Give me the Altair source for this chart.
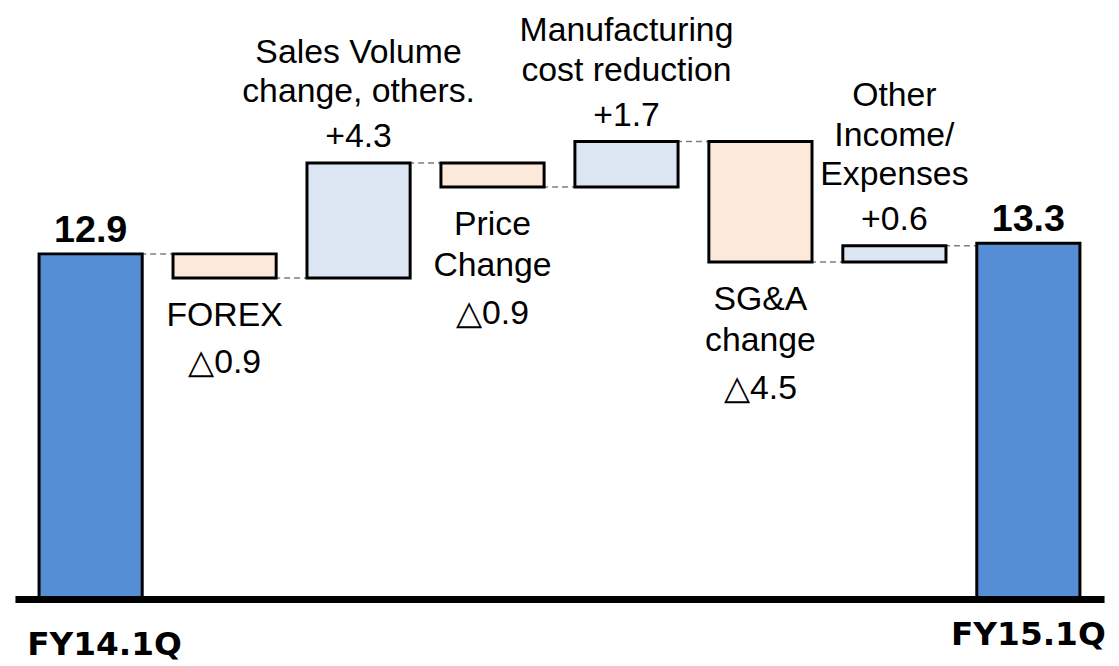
import altair as alt
import pandas as pd

# ---- data ----
categories = ["FY14.1Q", "FOREX", "Sales Volume", "Price Change",
              "Manufacturing", "SG&A", "Other", "FY15.1Q"]
values = [12.9, -0.9, 4.3, -0.9, 1.7, -4.5, 0.6, 13.3]
kinds = ["total", "decrease", "increase", "decrease",
         "increase", "decrease", "increase", "total"]
names = ["", "FOREX", "Sales Volume\nchange, others.", "Price\nChange",
         "Manufacturing\ncost reduction", "SG&A\nchange",
         "Other\nIncome/\nExpenses", ""]
axis_labels = ["FY14.1Q", "FY15.1Q"]

# ---- waterfall table built from the arrays ----
rows = []
level = 0.0
for i, (c, v, k) in enumerate(zip(categories, values, kinds)):
    if k == "total":
        lo, hi = 0.0, v
        level = v
    else:
        start = level
        level = round(level + v, 2)
        lo, hi = min(start, level), max(start, level)
    nxt = categories[i + 1] if i + 1 < len(categories) else ""
    rows.append(dict(cat=c, kind=k, lo=lo, hi=hi, end=level,
                     label=f"{v:.1f}", nxt=nxt))
df = pd.DataFrame(rows)

# ---- label lines (one row per text line), with a line offset style ----
ABOVE_VALUE_GAP, ABOVE_NAME_GAP, ABOVE_LINE = -16, -45, -40
BELOW_FIRST, BELOW_LINE, BELOW_VALUE_GAP = 48, 42, 48
lines = []
for c, v, k, n in zip(categories, values, kinds, names):
    if k == "total":
        continue
    parts = n.split("\n")
    vtxt = f"+{v:.1f}" if v > 0 else f"\u25b3{abs(v):.1f}"
    if k == "increase":
        lines.append(dict(cat=c, text=vtxt, side="hi", dy=ABOVE_VALUE_GAP))
        for s, p in enumerate(reversed(parts)):
            lines.append(dict(cat=c, text=p, side="hi",
                              dy=ABOVE_VALUE_GAP + ABOVE_NAME_GAP + s * ABOVE_LINE))
    else:
        for j, p in enumerate(parts):
            lines.append(dict(cat=c, text=p, side="lo", dy=BELOW_FIRST + j * BELOW_LINE))
        lines.append(dict(cat=c, text=vtxt, side="lo",
                          dy=BELOW_FIRST + (len(parts) - 1) * BELOW_LINE + BELOW_VALUE_GAP))
lab = pd.DataFrame(lines).merge(df[["cat", "lo", "hi"]], on="cat")
lab["yv"] = [r.hi if r.side == "hi" else r.lo for r in lab.itertuples()]

FONT = "Liberation Sans"

x_enc = alt.X(
    "cat:N", sort=categories,
    scale=alt.Scale(paddingInner=0.23, paddingOuter=0.18),
    axis=alt.Axis(
        title=None,
        labelExpr="indexof(" + str(axis_labels) + ", datum.value) >= 0 ? datum.value : ''",
        labelFont="DejaVu Sans", labelFontWeight="bold", labelFontSize=33,
        labelColor="black", labelAngle=0,
        labelPadding=alt.condition("datum.value == 'FY14.1Q'", alt.value(30), alt.value(20)),
        labelOffset=alt.condition("datum.value == 'FY14.1Q'", alt.value(14), alt.value(0)),
        ticks=False, tickSize=0, labelOverlap=False, labelFlush=False, labelBound=False,
        domainColor="black", domainWidth=7, zindex=1,
    ),
)
y_scale = alt.Scale(domain=[0, 22], nice=False, zero=True)

base = alt.Chart(df).encode(x=x_enc)

connectors = base.transform_filter("datum.nxt != ''").mark_rule(
    color="#7f7f7f", strokeDash=[6, 4], strokeWidth=1.5
).encode(
    x2=alt.X2("nxt"),
    y=alt.Y("end:Q", scale=y_scale, axis=None),
)

bars = base.mark_bar(stroke="black", strokeWidth=3).encode(
    y=alt.Y("lo:Q", scale=y_scale, axis=None),
    y2="hi:Q",
    color=alt.Color(
        "kind:N",
        scale=alt.Scale(domain=["total", "increase", "decrease"],
                        range=["#558ed5", "#dce6f2", "#fde9d9"]),
        legend=None,
    ),
)

total_text = base.transform_filter("datum.kind == 'total'").mark_text(
    font=FONT, fontWeight="bold", fontSize=38, baseline="alphabetic",
    dy=-12, color="black"
).encode(y=alt.Y("hi:Q", scale=y_scale, axis=None), text="label:N")

layers = [connectors, bars, total_text]
lab_base = alt.Chart(lab).encode(x=alt.X("cat:N", sort=categories))
for d in sorted(lab["dy"].unique()):
    layers.append(
        lab_base.transform_filter(f"datum.dy == {int(d)}").mark_text(
            font=FONT, fontSize=34, baseline="alphabetic", dy=int(d), color="black"
        ).encode(y=alt.Y("yv:Q", scale=y_scale, axis=None), text="text:N")
    )

chart = alt.layer(*layers).properties(
    width=1097, height=593,
    autosize=alt.AutoSizeParams(type="none"),
    padding={"left": 7, "top": 0, "right": 7, "bottom": 64},
).configure_view(stroke=None)

chart.save("out.html", embed_options={"renderer": "svg", "actions": False})
